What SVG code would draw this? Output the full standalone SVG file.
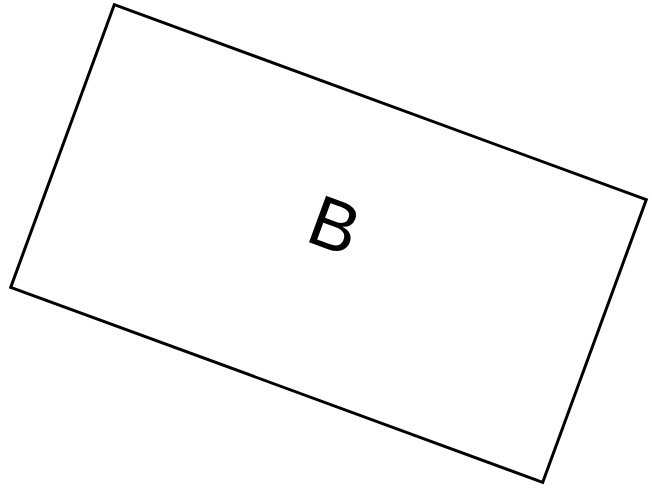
<svg xmlns="http://www.w3.org/2000/svg" width="652" height="488" viewBox="0 0 652 488">
<style>
.box{fill:#fff;stroke:#000;stroke-width:3}
.lbl{font-family:"Liberation Sans",Arial,sans-serif;font-size:72px;fill:#000;text-anchor:middle;dominant-baseline:central}
</style>
<rect width="652" height="488" fill="#fff"/>
<g id="B" transform="rotate(20.13 328.5 243.5)">
<rect class="box" x="45.2" y="93" width="566.6" height="301"/>
<text class="lbl" x="328" y="224">B</text>
</g>
<g id="connectors"/>
</svg>
